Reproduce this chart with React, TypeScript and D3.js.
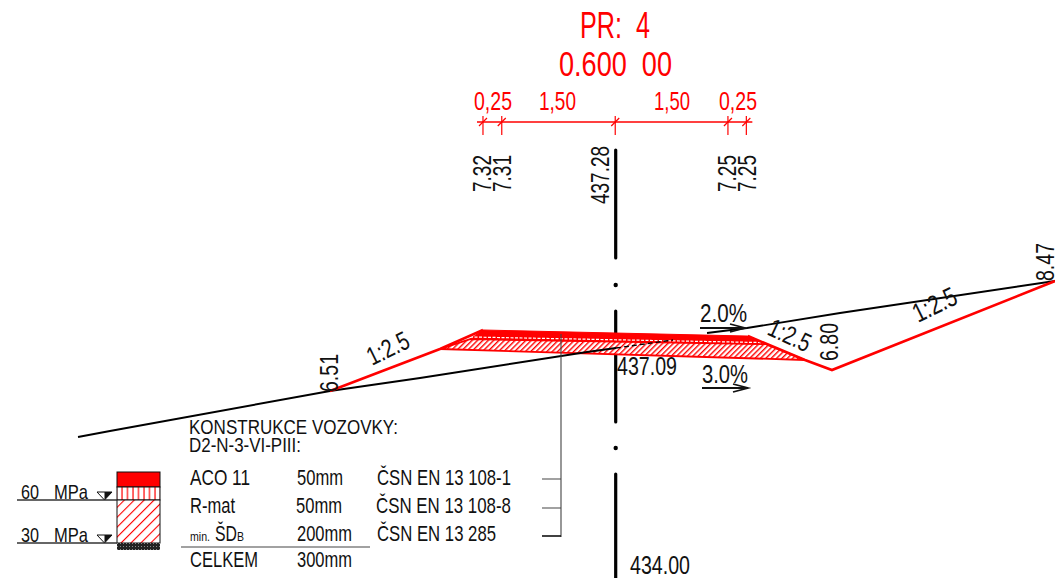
import React from "react";
import * as d3 from "d3";

const W = 1055, H = 578;
type P = [number, number];

// Cross-section geometry: [offset from axis in m, elevation in m]
const terrain: P[] = [[-7.017,435.924],[-6.6,436.002],[-3.73,436.524],[-2.556,436.693],[-0.378,437.032],[0,437.084],[0.743,437.189],[1.187,437.28],[1.709,437.345],[2.922,437.541],[5.726,437.958]];
const slopeLeft: P[] = [[-3.73,436.524],[-2.296,437.071],[-1.735,437.319]];
const slopeRight: P[] = [[1.72,437.24],[2.465,436.928],[2.817,436.797],[5.726,437.958]];
const layerTop: P[] = [[-1.735,437.319],[1.72,437.24],[1.96,437.135],[-1.904,437.2]];
const layerHatch: P[] = [[-1.904,437.2],[1.96,437.135],[2.465,436.928],[-2.296,437.071]];
const layerSeam: P[] = [[-1.904,437.228],[1.92,437.155]];
const axisSegments: P[] = [[439.667,438.258],[437.567,436.119],[435.441,434.084]];
const axisDots = [437.906, 435.78];
const dimTicks = [-1.735, -1.49, -0.01, 1.46, 1.7];

// Table contents
const layerNames = ["ACO 11", "R-mat"];
const thicknesses = ["50mm", "50mm", "200mm", "300mm"];
const standards = ["ČSN EN 13 108-1", "ČSN EN 13 108-8", "ČSN EN 13 285"];
const moduli = ["60", "30"];

const x = d3.scaleLinear().domain([0, 1]).range([616, 616 + 76.67]);
const y = d3.scaleLinear().domain([437.28, 436.28]).range([333, 333 + 76.67]);
const line = d3.line<P>().x((d) => x(d[0])).y((d) => y(d[1]));
const closed = d3.line<P>().x((d) => x(d[0])).y((d) => y(d[1])).curve(d3.curveLinearClosed);

const RED = "#ff0000";
const FONT = "'Liberation Sans', Arial, sans-serif";

function T(p: { t: string; x: number; y: number; w: number; s?: number; r?: number; c?: string }) {
  const { t, x: tx, y: ty, w, s = 25, r = 0, c = "#111" } = p;
  return (
    <text
      transform={`translate(${tx},${ty}) rotate(${r})`}
      fontFamily={FONT}
      fontSize={s}
      fill={c}
      textLength={w}
      lengthAdjust="spacingAndGlyphs"
      xmlSpace="preserve"
    >
      {t}
    </text>
  );
}

function Arrow({ x0, x1, yy }: { x0: number; x1: number; yy: number }) {
  return (
    <path
      d={`M${x0},${yy}H${x1}M${x1 - 15},${yy - 4}L${x1},${yy}L${x1 - 15},${yy + 4}`}
      fill="none"
      stroke="#111"
      strokeWidth={1.8}
    />
  );
}

export default function App() {
  return (
    <svg width={W} height={H} viewBox={`0 0 ${W} ${H}`} style={{ position: "absolute", left: 0, top: 0, background: "#fff" }}>
      <defs>
        <pattern id="hd" width="3.8" height="3.8" patternUnits="userSpaceOnUse" patternTransform="rotate(45)">
          <rect width="3.8" height="3.8" fill="#fff" />
          <line x1="0" y1="0" x2="0" y2="3.8" stroke={RED} strokeWidth="2.8" />
        </pattern>
        <pattern id="hl" width="7" height="7" patternUnits="userSpaceOnUse" patternTransform="rotate(45)">
          <rect width="7" height="7" fill="#fff" />
          <line x1="0" y1="0" x2="0" y2="7" stroke={RED} strokeWidth="2.2" />
        </pattern>
        <pattern id="hv" width="5.5" height="5" patternUnits="userSpaceOnUse">
          <rect width="5.5" height="5" fill="#fff" />
          <line x1="1" y1="0" x2="1" y2="5" stroke={RED} strokeWidth="1.2" />
        </pattern>
        <pattern id="st" width="3" height="3" patternUnits="userSpaceOnUse">
          <rect width="3" height="3" fill="#222" />
          <rect width="1" height="1" fill="#888" />
        </pattern>
      </defs>

      {/* axis */}
      {axisSegments.map((d, i) => (
        <line key={i} x1={x(0) - 0.3} x2={x(0) - 0.3} y1={y(d[0])} y2={y(d[1])} stroke="#000" strokeWidth={3.2} strokeLinecap="round" />
      ))}
      {axisDots.map((d, i) => (
        <circle key={i} cx={x(0) - 0.3} cy={y(d)} r={2.2} fill="#000" />
      ))}

      {/* heading */}
      <T t="PR:  4" x={580} y={38} w={70} s={36} c={RED} />
      <T t="0.600  00" x={559} y={76} w={113} s={35} c={RED} />
      <T t="0,25" x={474} y={110} w={38} c={RED} />
      <T t="1,50" x={539} y={110} w={37} c={RED} />
      <T t="1,50" x={654} y={110} w={36} c={RED} />
      <T t="0,25" x={719} y={110} w={38} c={RED} />
      <line x1={x(dimTicks[0]) - 6} x2={x(dimTicks[4]) + 6} y1={122} y2={122} stroke={RED} strokeWidth={1.4} />
      {dimTicks.map((d, i) => (
        <g key={i} stroke={RED} strokeWidth={1.2}>
          <line x1={x(d)} x2={x(d)} y1={116} y2={135} />
          <line x1={x(d) - 4} x2={x(d) + 4} y1={126} y2={118} />
        </g>
      ))}
      <T t="7.32" x={491} y={192} w={37} r={-90} />
      <T t="7.31" x={511} y={192} w={37} r={-90} />
      <T t="437.28" x={609} y={204} w={58} r={-90} />
      <T t="7.25" x={736} y={192} w={37} r={-90} />
      <T t="7.25" x={756} y={192} w={37} r={-90} />

      {/* pavement layers */}
      <path d={closed(layerHatch)!} fill="url(#hd)" stroke={RED} strokeWidth={1.8} />
      <path d={closed(layerTop)!} fill={RED} stroke={RED} strokeWidth={1} />
      <path d={line(layerSeam)!} fill="none" stroke="#fff" strokeWidth={1.2} strokeDasharray="3 1.5" />

      {/* terrain */}
      <path d={line(terrain.slice(0, 6))!} fill="none" stroke="#000" strokeWidth={1.9} />
      <path d={line(terrain.slice(5, 7))!} fill="none" stroke="#000" strokeWidth={1.4} strokeDasharray="5 3" />
      <path d={line(terrain.slice(7))!} fill="none" stroke="#000" strokeWidth={1.9} />

      {/* slopes */}
      <path d={line(slopeLeft)!} fill="none" stroke={RED} strokeWidth={2.6} />
      <path d={line(slopeRight)!} fill="none" stroke={RED} strokeWidth={2.6} />

      {/* section labels */}
      <T t="6.51" x={338} y={392} w={38} r={-90} />
      <T t="6.80" x={838} y={361} w={38} r={-90} />
      <T t="8.47" x={1054} y={281} w={38} r={-90} />
      <T t="1:2.5" x={372} y={366} w={44} r={-26} s={26} />
      <T t="1:2.5" x={766} y={334} w={44} r={25} s={26} />
      <T t="1:2.5" x={918} y={323} w={46} r={-26} s={27} />
      <T t="437.09" x={617} y={375} w={60} />
      <T t="2.0%" x={700} y={322} w={47} />
      <T t="3.0%" x={702} y={383} w={46} />
      <Arrow x0={700} x1={745} yy={328} />
      <Arrow x0={702} x1={748} yy={388} />

      {/* leader */}
      <path d="M561,334V537M542,479H561M542,508H561M542,536H561" fill="none" stroke="#444" strokeWidth={1.1} />
      <line x1={542} x2={561} y1={536} y2={536} stroke="#000" strokeWidth={1.2} />

      {/* composition table */}
      <T t="KONSTRUKCE VOZOVKY:" x={189} y={434} w={209} s={20} />
      <T t="D2-N-3-VI-PIII:" x={189} y={452} w={112} s={20} />
      <T t={layerNames[0]} x={190} y={485} w={60} s={22} />
      <T t={layerNames[1]} x={190} y={513} w={45} s={22} />
      <T t="min." x={190} y={541} w={20} s={13} />
      <T t="ŠD" x={215} y={541} w={22} s={22} />
      <T t="B" x={237} y={541} w={7} s={13} />
      <T t="CELKEM" x={190} y={567} w={68} s={22} />
      {thicknesses.map((d, i) => (
        <T key={i} t={d} x={i === 1 ? 296 : 297} y={[485, 513, 541, 567][i]} w={d.length === 4 ? 46 : 55} s={22} />
      ))}
      {standards.map((d, i) => (
        <T key={i} t={d} x={i === 1 ? 376 : 377} y={[485, 513, 541][i]} w={[134, 135, 119][i]} s={22} />
      ))}
      <line x1={181} x2={370} y1={547} y2={547} stroke="#444" strokeWidth={1.2} />

      {/* legend column */}
      <rect x={117} y={472} width={43} height={15} fill={RED} stroke="#111" strokeWidth={1} />
      <rect x={117} y={487} width={43} height={13} fill="url(#hv)" stroke="#111" strokeWidth={1} />
      <rect x={117} y={500} width={43} height={43} fill="url(#hl)" stroke="#111" strokeWidth={1} />
      <rect x={117} y={543} width={43} height={7} fill="url(#st)" />
      {moduli.map((d, i) => {
        const yy = [500, 543][i];
        return (
          <g key={d}>
            <line x1={17} x2={117} y1={yy} y2={yy} stroke="#333" strokeWidth={1.3} />
            <T t={d} x={21} y={yy - 1} w={18} s={21} />
            <T t="MPa" x={54} y={yy - 1} w={34} s={21} />
            <path d={`M97,${yy - 8}H112L104.5,${yy}Z`} fill="#fff" stroke="#111" strokeWidth={1} />
            <path d={`M104.5,${yy - 8}H112L104.5,${yy}Z`} fill="#111" />
          </g>
        );
      })}

      {/* centre annotation */}
      <T t="434.00" x={630} y={574} w={60} />
    </svg>
  );
}
